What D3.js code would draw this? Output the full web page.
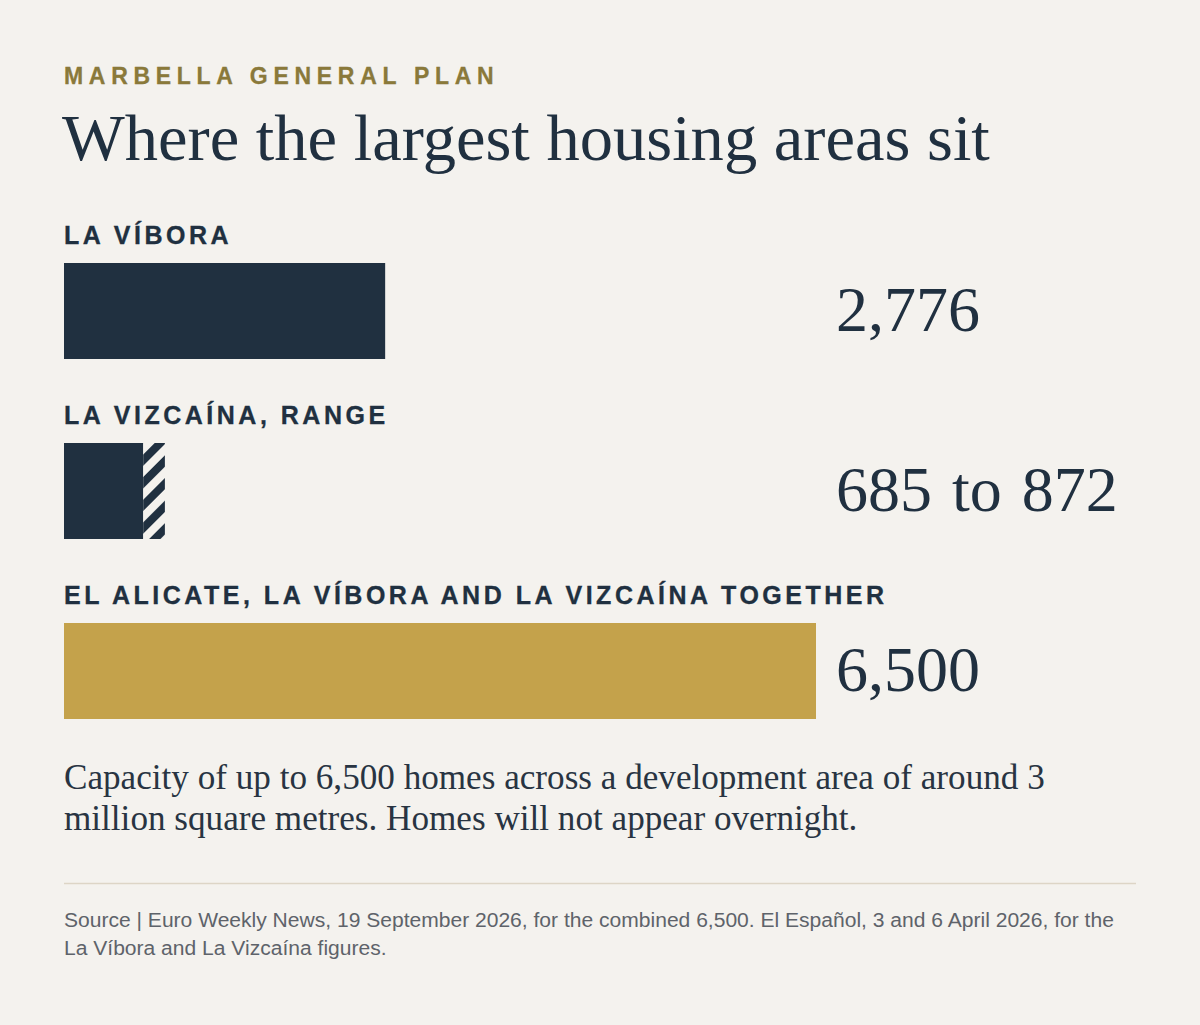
<!DOCTYPE html>
<html>
<head>
<meta charset="utf-8">
<script src="https://cdn.jsdelivr.net/npm/d3@7"></script>
<style>
  html, body { margin: 0; padding: 0; background: #f4f2ee; }
  svg { display: block; }
</style>
</head>
<body>
<svg id="chart" width="1200" height="1025"></svg>
<script>
// ---- data ----
const categories = ["LA VÍBORA", "LA VIZCAÍNA, RANGE", "EL ALICATE, LA VÍBORA AND LA VIZCAÍNA TOGETHER"];
const lowValues  = [2776, 685, 6500];
const highValues = [2776, 872, 6500];
const valueLabels = ["2,776", "685 to 872", "6,500"];
const barKinds = ["navy", "range", "gold"];
const kicker = "MARBELLA GENERAL PLAN";
const title = "Where the largest housing areas sit";
const noteLines = ["Capacity of up to 6,500 homes across a development area of around 3",
                   "million square metres. Homes will not appear overnight."];
const sourceLines = ["Source | Euro Weekly News, 19 September 2026, for the combined 6,500. El Español, 3 and 6 April 2026, for the",
                     "La Víbora and La Vizcaína figures."];

// ---- style ----
const NAVY = "#203040", GOLD = "#c4a24b", BG = "#f4f2ee", KICK = "#8a793a";
const SERIF = "'Liberation Serif', 'DejaVu Serif', serif";
const SANS = "'Liberation Sans', Arial, sans-serif";

const svg = d3.select("#chart");
svg.append("rect").attr("width", 1200).attr("height", 1025).attr("fill", BG);

const defs = svg.append("defs");
const pat = defs.append("pattern").attr("id", "hatch")
  .attr("patternUnits", "userSpaceOnUse").attr("width", 16).attr("height", 16)
  .attr("patternTransform", "rotate(45)");
pat.append("rect").attr("width", 16).attr("height", 16).attr("fill", BG);
pat.append("rect").attr("width", 8).attr("height", 16).attr("fill", NAVY);

function fit(sel, target) {
  const w = sel.node().getComputedTextLength();
  const fs = parseFloat(sel.attr("font-size"));
  sel.attr("font-size", fs * target / w);
}

// kicker & title
svg.append("text").attr("x", 64).attr("y", 84)
  .attr("font-family", SANS).attr("font-weight", 700).attr("font-size", 23)
  .attr("letter-spacing", 5.7).attr("fill", KICK)
  .attr("stroke", KICK).attr("stroke-width", 0.3).text(kicker);

const t = svg.append("text").attr("x", 62).attr("y", 160)
  .attr("font-family", SERIF).attr("font-size", 64).attr("fill", NAVY).text(title);
fit(t, 928);

// scales
const x = d3.scaleLinear().domain([0, 6500]).range([64, 816]);
const y = d3.scaleBand().domain(categories).range([214, 754]).paddingInner(0).paddingOuter(0);
const barH = 96;

const rows = svg.append("g").selectAll("g").data(categories).join("g")
  .attr("transform", d => `translate(0,${y(d)})`);

rows.append("text").attr("x", 64).attr("y", 30)
  .attr("font-family", SANS).attr("font-weight", 700).attr("font-size", 25)
  .attr("letter-spacing", 3.5).attr("fill", NAVY)
  .attr("stroke", NAVY).attr("stroke-width", 0.3).text(d => d);

rows.append("rect").attr("x", x(0)).attr("y", 49)
  .attr("width", (d, i) => x(lowValues[i]) - x(0)).attr("height", barH)
  .attr("fill", (d, i) => barKinds[i] === "gold" ? GOLD : NAVY);

rows.filter((d, i) => barKinds[i] === "range").append("rect")
  .attr("x", (d) => x(lowValues[categories.indexOf(d)])).attr("y", 49)
  .attr("width", d => x(highValues[categories.indexOf(d)]) - x(lowValues[categories.indexOf(d)]))
  .attr("height", barH).attr("fill", "url(#hatch)");

rows.append("text").attr("x", x(6500) + 20).attr("y", 49 + barH / 2 + 20)
  .attr("font-family", SERIF).attr("font-size", 64).attr("fill", NAVY)
  .attr("word-spacing", 4)
  .text((d, i) => valueLabels[i]);

// note
const note = svg.append("text").attr("font-family", SERIF).attr("font-size", 30).attr("fill", "#283442");
note.selectAll("tspan").data(noteLines).join("tspan")
  .attr("x", 64).attr("y", (d, i) => 789 + i * 41).text(d => d);
{
  const w = note.select("tspan").node().getComputedTextLength();
  note.attr("font-size", 30 * 981 / w);
}

// separator
svg.append("line").attr("x1", 64).attr("x2", 1136).attr("y1", 883.5).attr("y2", 883.5)
  .attr("stroke", "#ddd5c6").attr("stroke-width", 1.5);

// source
const src = svg.append("text").attr("font-family", SANS).attr("font-size", 19).attr("fill", "#5e636a");
src.selectAll("tspan").data(sourceLines).join("tspan")
  .attr("x", 64).attr("y", (d, i) => 927 + i * 28).text(d => d);
{
  const w = src.select("tspan").node().getComputedTextLength();
  src.attr("font-size", 19 * 1051 / w);
}
</script>
</body>
</html>
